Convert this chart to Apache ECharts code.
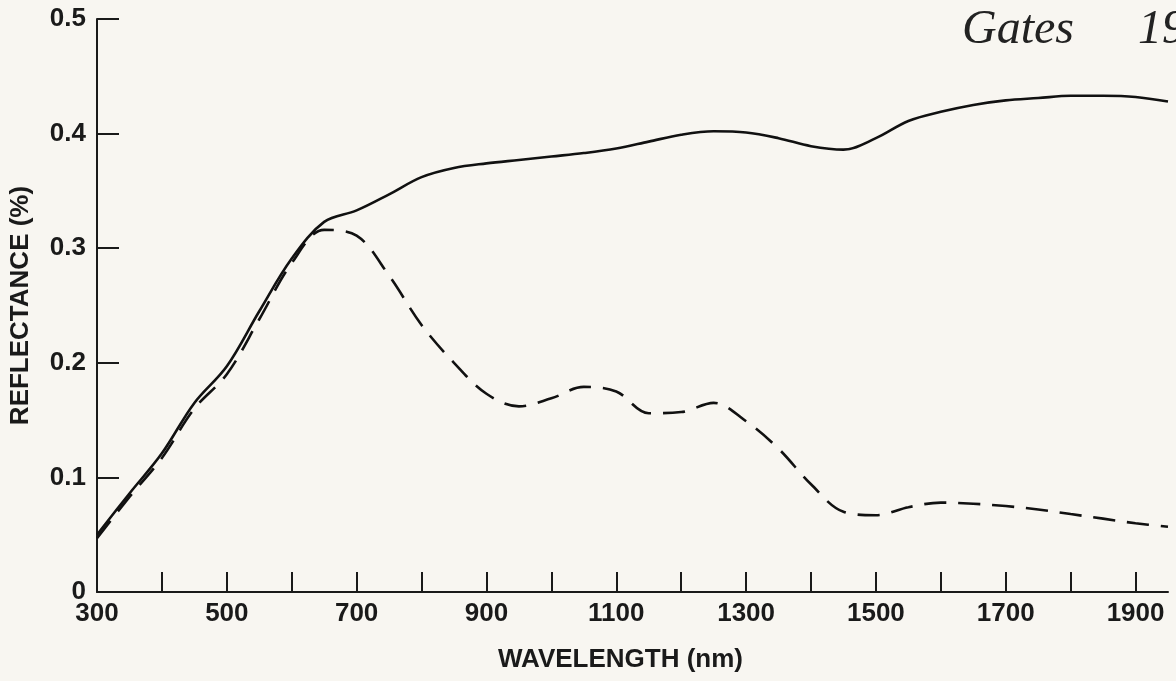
<!DOCTYPE html>
<html>
<head>
<meta charset="utf-8">
<script src="https://cdn.jsdelivr.net/npm/echarts@6/dist/echarts.min.js"></script>
<style>
  html, body { margin: 0; padding: 0; background: #f8f6f1; }
  #chart { width: 1176px; height: 681px; }
</style>
</head>
<body>
<div id="chart"></div>
<script>
// Wavelength (nm)
const wavelengths = [300, 350, 400, 450, 500, 550, 600, 650, 700, 750, 800, 850, 900, 950,
  1000, 1050, 1100, 1150, 1200, 1250, 1300, 1350, 1400, 1450, 1500, 1550, 1600, 1650,
  1700, 1750, 1800, 1850, 1900, 1950];
// Solid curve
const solidReflectance = [0.050, 0.086, 0.121, 0.165, 0.197, 0.245, 0.291, 0.323, 0.333, 0.347,
  0.362, 0.370, 0.374, 0.377, 0.380, 0.383, 0.387, 0.393, 0.399, 0.402, 0.401, 0.396, 0.389,
  0.386, 0.396, 0.411, 0.419, 0.425, 0.429, 0.431, 0.433, 0.433, 0.432, 0.428];
// Dashed curve
const dashedReflectance = [0.047, 0.083, 0.117, 0.160, 0.190, 0.238, 0.287, 0.316, 0.311, 0.276,
  0.233, 0.200, 0.173, 0.162, 0.169, 0.179, 0.175, 0.156, 0.157, 0.165, 0.149, 0.125, 0.094,
  0.070, 0.067, 0.074, 0.078, 0.077, 0.075, 0.072, 0.068, 0.064, 0.060, 0.057];
// Axis ticks and labels
const xTickValues = [300, 400, 500, 600, 700, 800, 900, 1000, 1100, 1200, 1300, 1400, 1500, 1600, 1700, 1800, 1900];
const xLabelValues = [300, 500, 700, 900, 1100, 1300, 1500, 1700, 1900];
const yTickValues = [0, 0.1, 0.2, 0.3, 0.4, 0.5];
const yLabels = ['0', '0.1', '0.2', '0.3', '0.4', '0.5'];

const ink = '#1a1a1a';
const font = 'Liberation Sans';

const chart = echarts.init(document.getElementById('chart'), null, { renderer: 'canvas' });
chart.setOption({
  backgroundColor: '#f8f6f1',
  animation: false,
  grid: { left: 96, right: 8, top: 19, bottom: 89 },
  xAxis: {
    type: 'value',
    min: 300, max: 1950, interval: 100,
    name: 'WAVELENGTH (nm)',
    nameLocation: 'middle',
    nameGap: 55,
    nameTextStyle: { fontFamily: font, fontSize: 26, fontWeight: 'bold', color: ink, padding: [0, 24, 0, 0] },
    axisLine: { show: true, onZero: false, lineStyle: { color: ink, width: 2 } },
    axisTick: { show: true, inside: true, length: 20, customValues: xTickValues, lineStyle: { color: ink, width: 2 } },
    axisLabel: {
      customValues: xLabelValues,
      formatter: v => String(v),
      fontFamily: font, fontSize: 26, fontWeight: 'bold', color: ink, margin: 9
    },
    splitLine: { show: false }
  },
  yAxis: {
    type: 'value',
    min: 0, max: 0.5, interval: 0.1,
    name: 'REFLECTANCE (%)',
    nameLocation: 'middle',
    nameGap: 63,
    nameTextStyle: { fontFamily: font, fontSize: 26, fontWeight: 'bold', color: ink },
    axisLine: { show: true, lineStyle: { color: ink, width: 2 } },
    axisTick: { show: true, inside: true, length: 22, customValues: yTickValues, lineStyle: { color: ink, width: 2 } },
    axisLabel: {
      customValues: yTickValues,
      formatter: v => yLabels[yTickValues.indexOf(Math.round(v * 10) / 10)],
      fontFamily: font, fontSize: 26, fontWeight: 'bold', color: ink, margin: 11
    },
    splitLine: { show: false }
  },
  series: [
    {
      type: 'line', name: 'solid',
      data: wavelengths.map((w, i) => [w, solidReflectance[i]]),
      smooth: 0.35, showSymbol: false,
      lineStyle: { color: '#111', width: 2.6 }
    },
    {
      type: 'line', name: 'dashed',
      data: wavelengths.map((w, i) => [w, dashedReflectance[i]]),
      smooth: 0.35, showSymbol: false,
      lineStyle: { color: '#111', width: 2.6, type: [22, 12] }
    }
  ],
  graphic: [
    { type: 'text', left: 962, top: 6, style: { text: 'Gates', font: 'italic 48px "Liberation Serif"', fill: '#222' } },
    { type: 'text', left: 1138, top: 6, style: { text: '19', font: 'italic 48px "Liberation Serif"', fill: '#222' } }
  ]
});
</script>
</body>
</html>
